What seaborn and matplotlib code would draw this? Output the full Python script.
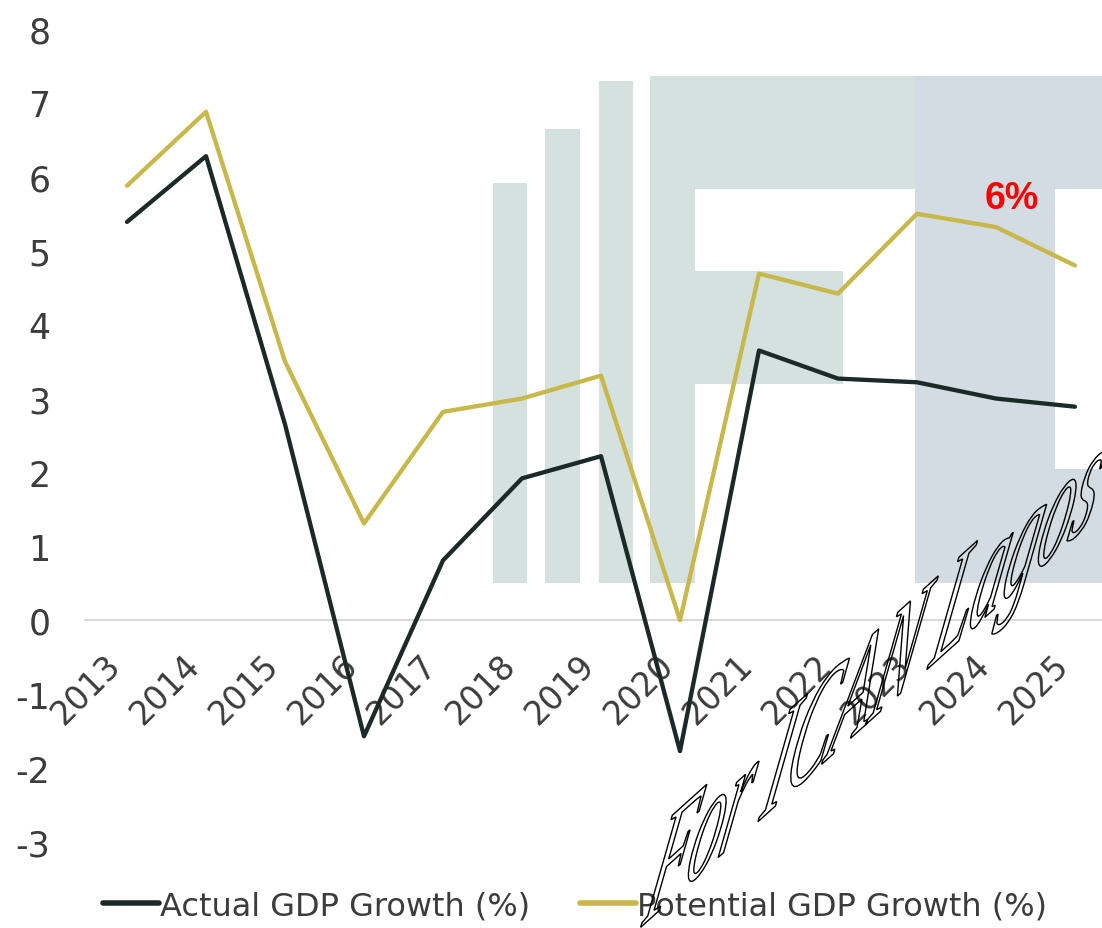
import matplotlib
matplotlib.use("Agg")
import matplotlib.pyplot as plt
import seaborn as sns
import pandas as pd
from matplotlib.textpath import TextPath
from matplotlib.patches import PathPatch, Rectangle
from matplotlib.font_manager import FontProperties
from matplotlib import transforms

# ---- data -------------------------------------------------------------
years = [2013, 2014, 2015, 2016, 2017, 2018, 2019, 2020, 2021, 2022, 2023, 2024, 2025]
actual_growth = [5.39, 6.28, 2.65, -1.57, 0.81, 1.92, 2.22, -1.77, 3.65, 3.27, 3.22, 3.00, 2.89]
potential_growth = [5.88, 6.88, 3.50, 1.31, 2.82, 3.00, 3.31, 0.00, 4.69, 4.42, 5.50, 5.32, 4.80]
series_names = ["Actual GDP Growth (%)", "Potential GDP Growth (%)"]
y_ticks = [-3, -2, -1, 0, 1, 2, 3, 4, 5, 6, 7, 8]
callout_text = "6%"
callout_pos = (2024.2, 5.72)

df = pd.DataFrame({
    "Year": years * 2,
    "Growth": actual_growth + potential_growth,
    "Series": [series_names[0]] * len(years) + [series_names[1]] * len(years),
})

# ---- styling ----------------------------------------------------------
sns.set_style("white")
plt.rcParams["font.family"] = ["DejaVu Sans"]
TEXT = "#3c3c3c"
palette = {series_names[0]: "#1b2a28", series_names[1]: "#c8b74a"}

W, H = 1102, 929
fig = plt.figure(figsize=(W / 100, H / 100), dpi=100)
ax = fig.add_axes([85 / W, 1 - 843 / H, 1 - 85 / W, (843 - 30) / H])


def px_rect(x0, y0, x1, y1, color, z):
    """Rectangle given in pixel units measured from the top-left corner."""
    r = Rectangle((x0 / W, 1 - y1 / H), (x1 - x0) / W, (y1 - y0) / H,
                  transform=fig.transFigure, facecolor=color, edgecolor="none",
                  lw=0, zorder=z, clip_on=False)
    ax.add_patch(r)


# faint company logo behind the lines
LOGO_G = "#d4e1de"
LOGO_B = "#d2dce2"
px_rect(493, 184, 527, 584, LOGO_G, 0.2)
px_rect(545, 130, 580, 584, LOGO_G, 0.2)
px_rect(599, 82, 633, 584, LOGO_G, 0.2)
px_rect(650, 77, 1102, 584, LOGO_G, 0.2)
px_rect(915, 77, 1102, 584, LOGO_B, 0.25)
px_rect(695, 190, 915, 272, "white", 0.3)
px_rect(843, 272, 915, 584, "white", 0.3)
px_rect(695, 385, 843, 584, "white", 0.3)
px_rect(1055, 190, 1102, 470, "white", 0.3)

# ---- lines ------------------------------------------------------------
sns.lineplot(data=df, x="Year", y="Growth", hue="Series", palette=palette,
             linewidth=3.1, ax=ax, zorder=3)

ax.set_xlim(2012.468, 2025.342)
ax.set_ylim(-3, 8)
ax.set_xlabel("")
ax.set_ylabel("")

for side in ("top", "right", "left"):
    ax.spines[side].set_visible(False)
ax.spines["bottom"].set_position(("data", 0))
ax.spines["bottom"].set_color("#d9d9d9")
ax.spines["bottom"].set_linewidth(1.5)
ax.spines["bottom"].set_zorder(1)

ax.set_xticks(years)
ax.set_xticklabels([str(y) for y in years], rotation=45, ha="right",
                   va="top", fontsize=23.5, color=TEXT)
ax.set_yticks(y_ticks)
ax.set_yticklabels([str(t) for t in y_ticks], fontsize=25, color=TEXT)
ax.tick_params(axis="x", length=0, pad=20)
ax.tick_params(axis="y", length=0, pad=25)

ax.text(callout_pos[0], callout_pos[1], callout_text, color="#ff0000",
        fontsize=27, fontweight="bold", family="Liberation Sans",
        ha="center", va="center", zorder=5)

# ---- legend -----------------------------------------------------------
handles, labels = ax.get_legend_handles_labels()
leg = ax.legend(handles, labels, ncol=2, loc="center",
                bbox_to_anchor=(575 / W, 1 - 907 / H),
                bbox_transform=fig.transFigure, frameon=False, fontsize=23,
                handlelength=1.75, handletextpad=0.05, columnspacing=1.55,
                labelcolor=TEXT)
for line in leg.get_lines():
    line.set_linewidth(4)

# ---- diagonal outlined stamp -----------------------------------------
fp = FontProperties(family="Liberation Serif", style="italic")
tp = TextPath((0, 0), "For ICAN Lagos", size=92, prop=fp)
tr = (transforms.Affine2D().scale(0.98, 1.03).skew_deg(55, 0)
      .rotate_deg(42).translate(641, 1))
stamp = PathPatch(tp, transform=tr, facecolor="none", edgecolor="black",
                  lw=1.0, zorder=10)
fig.add_artist(stamp)

fig.savefig("out.png", dpi=100, facecolor="white")
